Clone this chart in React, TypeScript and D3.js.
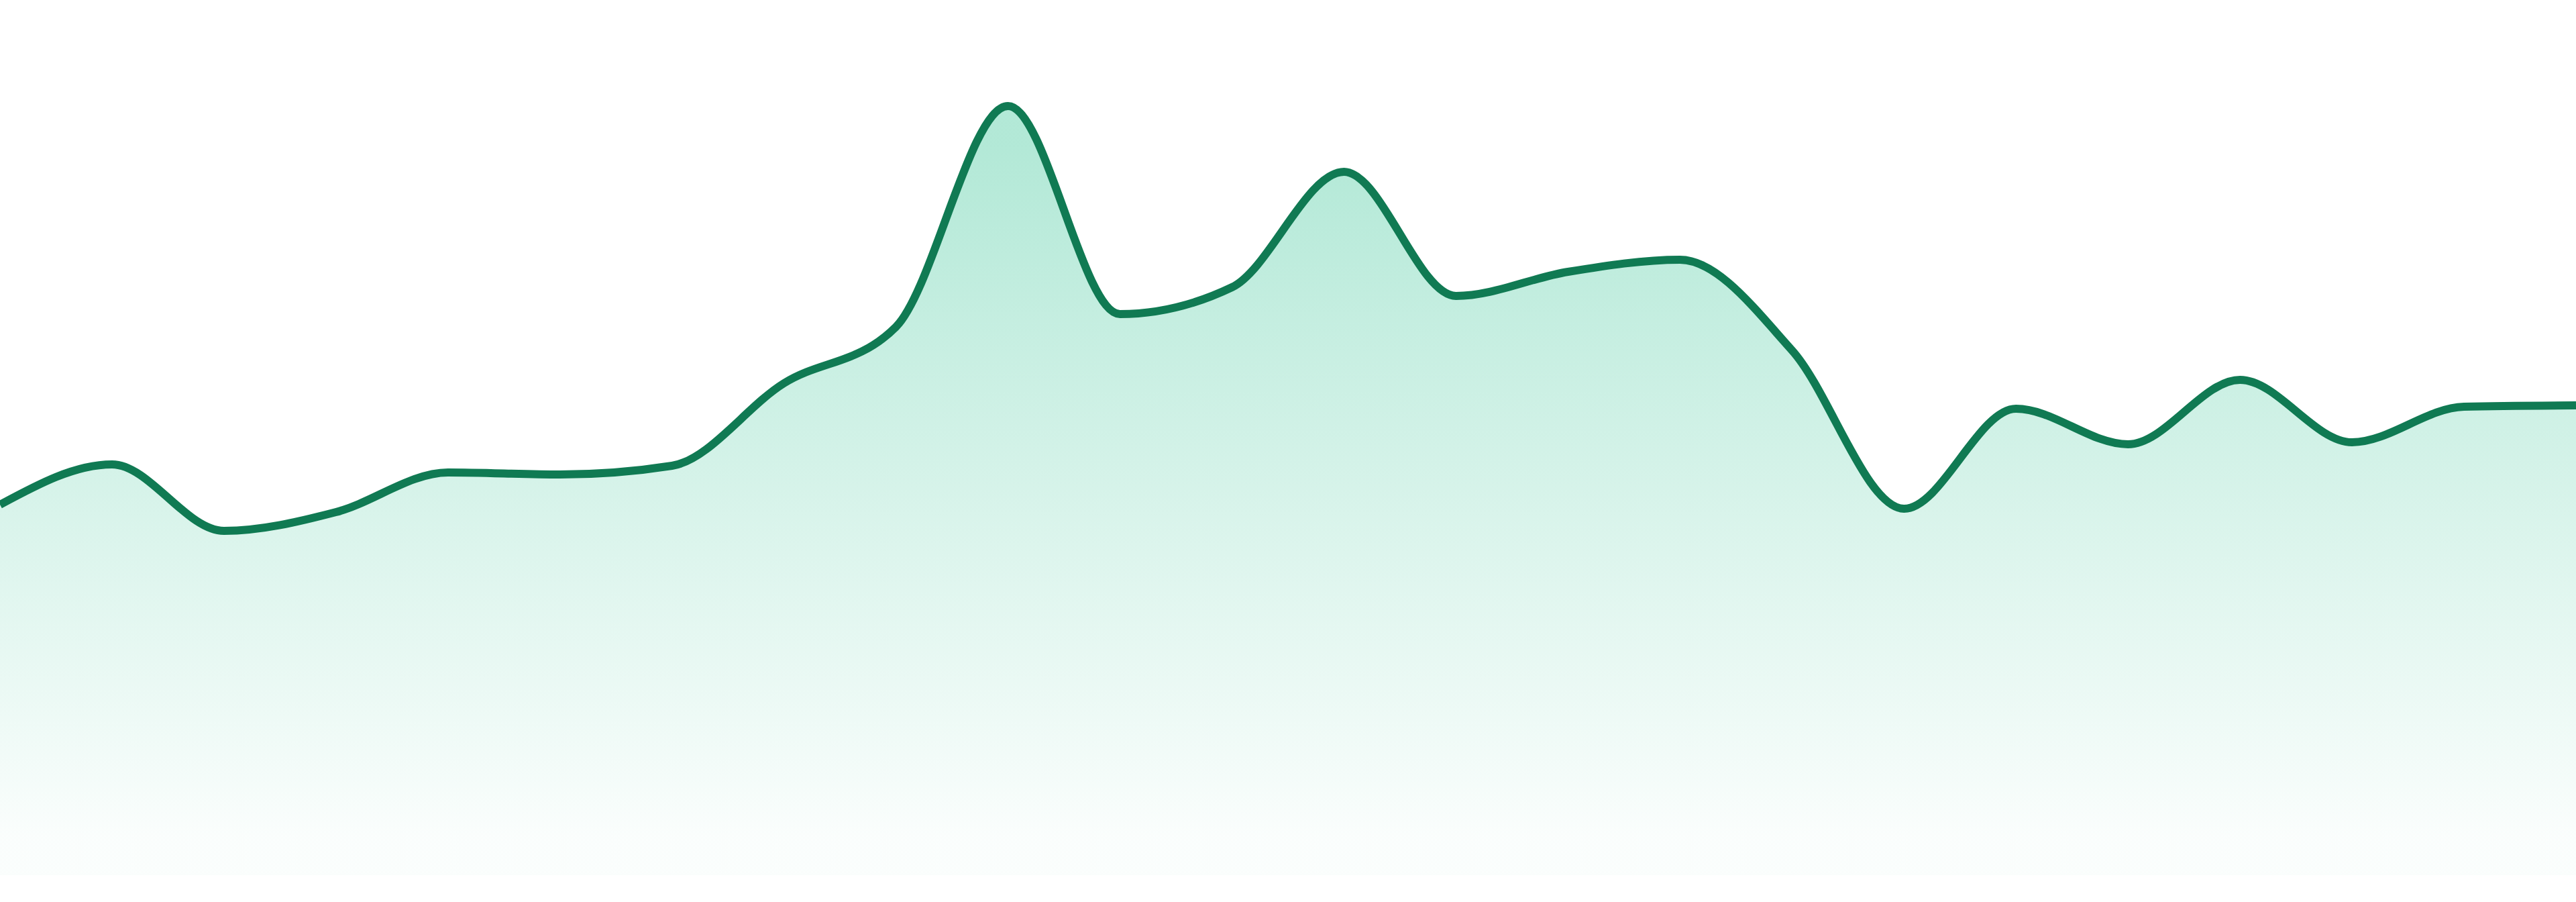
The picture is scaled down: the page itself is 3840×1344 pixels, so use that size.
import { useEffect, useRef } from "react";
import * as d3 from "d3";

// One reading per step, left to right
const steps = d3.range(24);
const values = [
  55.2, 61.2, 51.3, 54.1, 60.0, 59.7, 61.0, 73.3, 81.7, 114.6, 83.6, 87.6,
  104.8, 86.3, 89.9, 91.7, 78.2, 54.6, 69.5, 64.2, 73.8, 64.5, 69.8, 70.0,
];

const width = 3840;
const height = 1344;
const bottom = 1304;

export default function App() {
  const svgRef = useRef<SVGSVGElement>(null);

  useEffect(() => {
    document.body.style.margin = "0";
    if (!svgRef.current) return;

    const svg = d3.select(svgRef.current);
    svg.selectAll("*").remove();

    const x = d3
      .scaleLinear()
      .domain([0, steps.length - 1])
      .range([0, width]);

    const y = d3.scaleLinear().domain([0, 130]).range([bottom, 4]);

    const data = steps.map((s, i) => ({ s, v: values[i] }));

    // Gradient fill under the line
    const defs = svg.append("defs");
    const grad = defs
      .append("linearGradient")
      .attr("id", "areaFill")
      .attr("x1", 0)
      .attr("y1", 0)
      .attr("x2", 0)
      .attr("y2", 1);
    grad
      .append("stop")
      .attr("offset", "5%")
      .attr("stop-color", "#10b981")
      .attr("stop-opacity", 0.32);
    grad
      .append("stop")
      .attr("offset", "95%")
      .attr("stop-color", "#10b981")
      .attr("stop-opacity", 0.02);

    const area = d3
      .area<{ s: number; v: number }>()
      .x((d) => x(d.s))
      .y0(bottom)
      .y1((d) => y(d.v))
      .curve(d3.curveMonotoneX);

    const line = d3
      .line<{ s: number; v: number }>()
      .x((d) => x(d.s))
      .y((d) => y(d.v))
      .curve(d3.curveMonotoneX);

    svg
      .append("path")
      .datum(data)
      .attr("d", area)
      .attr("fill", "url(#areaFill)");

    svg
      .append("path")
      .datum(data)
      .attr("d", line)
      .attr("fill", "none")
      .attr("stroke", "#107a53")
      .attr("stroke-width", 12)
      .attr("stroke-linejoin", "round");
  }, []);

  return (
    <svg
      ref={svgRef}
      width={width}
      height={height}
      viewBox={`0 0 ${width} ${height}`}
      style={{ display: "block", background: "#fff" }}
    />
  );
}
